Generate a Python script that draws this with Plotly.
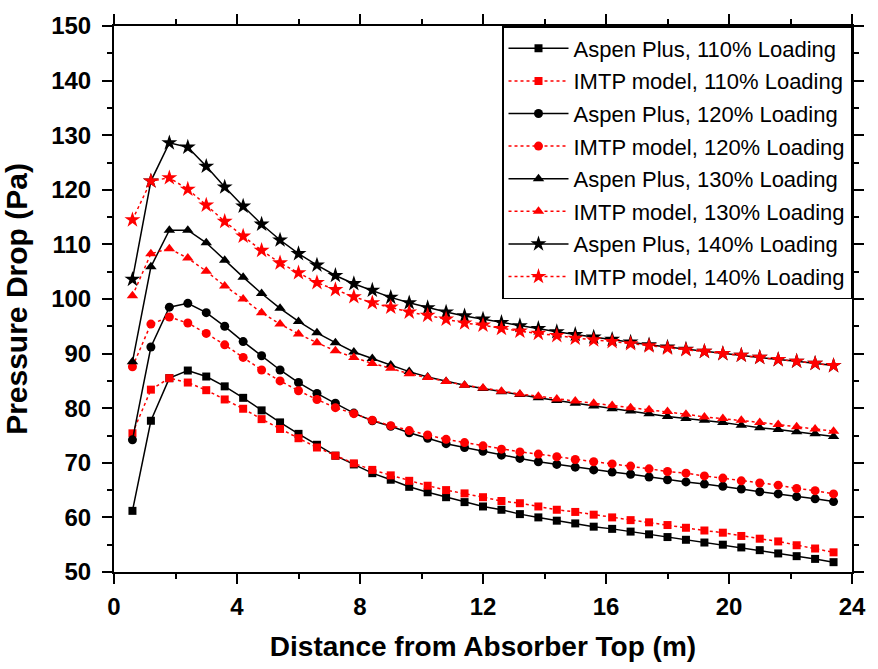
import plotly.graph_objects as go

# Distance from absorber top (m), one point every 0.6 m
distance = [round(0.6 * (i + 1), 1) for i in range(39)]

aspen_110 = [61.2, 77.7, 85.5, 86.9, 85.8, 84.0, 81.9, 79.6, 77.4, 75.3, 73.3, 71.3, 69.7, 68.1, 66.9,
             65.6, 64.6, 63.7, 62.8, 62.0, 61.4, 60.6, 60.0, 59.4, 58.9, 58.3, 57.9,
             57.4, 56.9, 56.4, 55.9, 55.4, 55.0, 54.5, 54.0, 53.4, 52.9, 52.4, 51.8]
imtp_110 = [75.4, 83.4, 85.5, 84.7, 83.3, 81.6, 79.9, 78.0, 76.2, 74.5, 72.8, 71.3, 69.9, 68.7, 67.7,
            66.7, 65.8, 65.0, 64.4, 63.7, 63.0, 62.6, 62.0, 61.4, 61.0, 60.5, 60.0,
            59.5, 59.1, 58.6, 58.1, 57.6, 57.2, 56.6, 56.1, 55.6, 54.9, 54.3, 53.6]
aspen_120 = [74.2, 91.2, 98.5, 99.2, 97.5, 95.0, 92.2, 89.6, 87.0, 84.7, 82.7, 80.9, 79.1, 77.7, 76.7,
             75.5, 74.5, 73.5, 72.8, 72.1, 71.4, 70.8, 70.2, 69.7, 69.2, 68.7, 68.3,
             67.9, 67.4, 66.9, 66.5, 66.1, 65.7, 65.2, 64.7, 64.3, 63.8, 63.4, 62.9]
imtp_120 = [87.6, 95.4, 96.7, 95.6, 93.7, 91.6, 89.3, 87.0, 85.0, 83.2, 81.6, 80.1, 79.0, 77.8, 76.8,
            75.9, 75.1, 74.3, 73.7, 73.1, 72.5, 72.0, 71.6, 71.1, 70.6, 70.2, 69.8,
            69.4, 68.9, 68.4, 68.1, 67.6, 67.2, 66.7, 66.3, 65.9, 65.3, 64.9, 64.3]
aspen_130 = [88.5, 105.9, 112.6, 112.6, 110.3, 107.1, 104.0, 101.0, 98.3, 95.9, 93.8, 92.0, 90.3, 89.1, 87.9,
             86.7, 85.7, 84.9, 84.2, 83.6, 83.0, 82.5, 81.9, 81.4, 80.9, 80.4, 79.9,
             79.5, 79.0, 78.5, 78.1, 77.8, 77.4, 76.9, 76.4, 76.1, 75.7, 75.3, 74.8]
imtp_130 = [100.6, 108.3, 109.2, 107.5, 105.1, 102.4, 100.0, 97.5, 95.4, 93.6, 92.0, 90.5, 89.3, 88.2, 87.3,
            86.3, 85.6, 84.9, 84.2, 83.7, 83.1, 82.6, 82.2, 81.7, 81.3, 80.9, 80.5,
            80.1, 79.7, 79.4, 78.9, 78.4, 78.1, 77.8, 77.4, 77.0, 76.6, 76.2, 75.8]
aspen_140 = [103.6, 121.6, 128.6, 127.8, 124.3, 120.5, 117.0, 113.7, 110.8, 108.3, 106.2, 104.3, 102.8, 101.6, 100.3,
             99.3, 98.4, 97.6, 96.9, 96.3, 95.7, 95.1, 94.6, 94.0, 93.5, 93.0, 92.6,
             92.1, 91.6, 91.2, 90.8, 90.4, 90.0, 89.7, 89.3, 88.9, 88.6, 88.2, 87.8]
imtp_140 = [114.5, 121.6, 122.2, 120.1, 117.2, 114.2, 111.5, 108.9, 106.6, 104.8, 103.0, 101.7, 100.4, 99.3, 98.5,
            97.6, 97.0, 96.3, 95.6, 95.2, 94.6, 94.1, 93.7, 93.3, 92.8, 92.5, 92.2,
            91.8, 91.4, 91.0, 90.7, 90.4, 90.0, 89.7, 89.3, 88.9, 88.6, 88.2, 87.8]

series = [
    ("Aspen Plus, 110% Loading", aspen_110, "black", "solid", "square", 8),
    ("IMTP model, 110% Loading", imtp_110, "red", "dot", "square", 8),
    ("Aspen Plus, 120% Loading", aspen_120, "black", "solid", "circle", 9),
    ("IMTP model, 120% Loading", imtp_120, "red", "dot", "circle", 9),
    ("Aspen Plus, 130% Loading", aspen_130, "black", "solid", "triangle-up", 10),
    ("IMTP model, 130% Loading", imtp_130, "red", "dot", "triangle-up", 10),
    ("Aspen Plus, 140% Loading", aspen_140, "black", "solid", "star", 12),
    ("IMTP model, 140% Loading", imtp_140, "red", "dot", "star", 12),
]

FONT = "Arial, 'Liberation Sans', sans-serif"

fig = go.Figure()
for i, (name, values, color, dash, symbol, size) in enumerate(series):
    fig.add_trace(go.Scatter(
        x=distance, y=values, name=name, mode="lines+markers",
        legendgroup=f"g{i}",
        line=dict(color=color, width=1.5, dash=dash),
        marker=dict(symbol=symbol, size=size, color=color, line=dict(width=0)),
    ))

axis_common = dict(
    showline=True, linecolor="black", linewidth=2, mirror="ticks",
    ticks="outside", ticklen=10, tickwidth=2, tickcolor="black",
    showgrid=False, zeroline=False,
    tickfont=dict(family=FONT, size=24, color="black", weight="bold"),
)

fig.update_xaxes(
    range=[0, 24], tick0=0, dtick=4,
    minor=dict(ticks="outside", dtick=2, ticklen=5, tickwidth=2, tickcolor="black"),
    title=dict(text="Distance from Absorber Top (m)", standoff=18,
               font=dict(family=FONT, size=28, color="black", weight="bold")),
    ticklabelstandoff=2,
    **axis_common,
)
fig.update_yaxes(
    range=[50, 150], tick0=50, dtick=10,
    minor=dict(ticks="outside", dtick=5, ticklen=5, tickwidth=2, tickcolor="black"),
    title=dict(text="Pressure Drop (Pa)", standoff=16,
               font=dict(family=FONT, size=30, color="black", weight="bold")),
    ticklabelstandoff=6,
    **axis_common,
)

fig.update_layout(
    width=878, height=669,
    margin=dict(l=114, r=21, t=21, b=96),
    paper_bgcolor="white", plot_bgcolor="white",
    font=dict(family=FONT, color="black"),
    legend=dict(
        x=1, y=1, xanchor="right", yanchor="top",
        bgcolor="white", bordercolor="black", borderwidth=1.5,
        font=dict(family=FONT, size=22, color="black"),
        traceorder="grouped", tracegroupgap=1, itemwidth=60,
    ),
)

fig.write_html("out.html")
